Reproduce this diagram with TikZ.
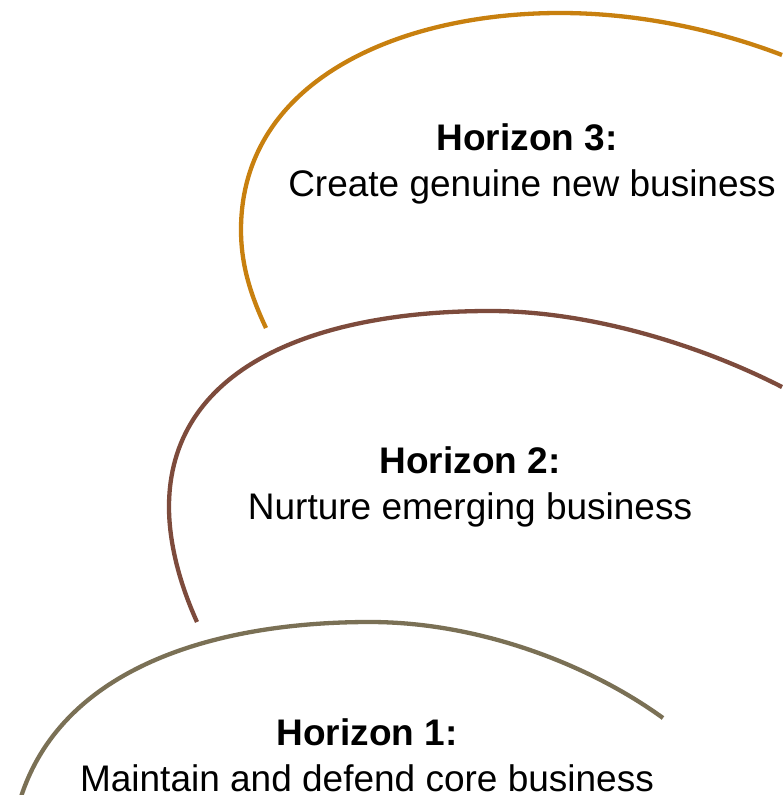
\documentclass[tikz,border=0pt]{standalone}
\usepackage{fontspec}
\setmainfont{Liberation Sans}
\usepackage{tikz}
\definecolor{hthree}{RGB}{200,128,15}
\definecolor{htwo}{RGB}{125,75,60}
\definecolor{hone}{RGB}{122,112,85}
\tikzset{
horizon line/.style={line width=4.3pt},
horizon title/.style={anchor=base,inner sep=0pt,font=\fontsize{37}{46}\selectfont\bfseries},
horizon text/.style={anchor=base,inner sep=0pt,font=\fontsize{37}{46}\selectfont},
}
\begin{document}
\begin{tikzpicture}[x=1pt,y=1pt,yscale=-1,xscale=1]
\useasboundingbox (0,0) rectangle (782,795);

%Shape: Arc [horizon 3]
\draw [horizon line,color=hthree] (266,328) .. controls (248,290) and (241,260) .. (241,230) .. controls (241,80) and (400,13) .. (560,13) .. controls (650,13) and (730,35) .. (782,55) ;
%Shape: Arc [horizon 2]
\draw [horizon line,color=htwo] (197,622) .. controls (178,580) and (169,540) .. (169,507) .. controls (169,370) and (310,311) .. (490,311) .. controls (590,311) and (700,345) .. (782,387) ;
%Shape: Arc [horizon 1]
\draw [horizon line,color=hone] (20,800) .. controls (60,670) and (210,622) .. (370,622) .. controls (480,622) and (590,665) .. (663,718) ;

% Text Node
\node (h3title) [horizon title] at (527,150) {Horizon 3:};
% Text Node
\node (h3text) [horizon text] at (532,196) {Create genuine new business};
% Text Node
\node (h2title) [horizon title] at (470,473) {Horizon 2:};
% Text Node
\node (h2text) [horizon text] at (470,519) {Nurture emerging business};
% Text Node
\node (h1title) [horizon title] at (367,745) {Horizon 1:};
% Text Node
\node (h1text) [horizon text] at (367,791) {Maintain and defend core business};
\end{tikzpicture}
\end{document}
